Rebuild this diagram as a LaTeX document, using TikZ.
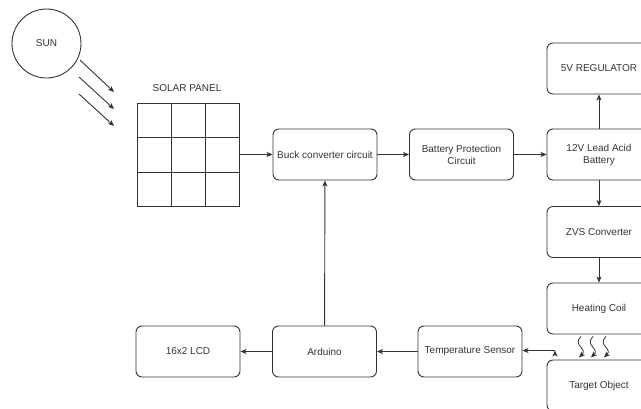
\documentclass[tikz,border=0pt]{standalone}
\usepackage{fontspec}
\setmainfont{Liberation Sans}
\usetikzlibrary{arrows.meta}

\tikzset{
    block/.style={draw, rounded corners=6pt, minimum width=104pt, minimum height=51pt,
        align=center, inner sep=1pt},
    tip/.style={-{Stealth[length=6pt, width=5pt, inset=1.5pt]}}
}

\begin{document}
\begin{tikzpicture}[x=1pt, y=-1pt, line width=0.9pt, draw=black!80, text=black!80,
    font=\fontsize{10}{12}\selectfont]
    \useasboundingbox (0, 0) rectangle (641, 408);

    \node[draw, circle, minimum size=69pt] (sun) at (46.5, 43.5) {SUN};
    \node[draw, minimum width=102pt, minimum height=103pt, inner sep=0pt] (panel) at (188, 154.5) {};
    \node (paneltxt) at (187, 88) {SOLAR PANEL};
    \node[block] (buck) at (325, 154.5) {Buck converter circuit};
    \node[block] (protect) at (461.5, 154.5) {Battery Protection\\Circuit};
    \node[block] (battery) at (599, 154.5) {12V Lead Acid\\Battery};
    \node[block] (reg) at (599, 68.5) {5V REGULATOR};
    \node[block] (zvs) at (599, 232) {ZVS Converter};
    \node[block] (coil) at (599, 308.5) {Heating Coil};
    \node[block] (target) at (599, 385.5) {Target Object};
    \node[block] (sensor) at (470, 351.5) {Temperature Sensor};
    \node[block] (arduino) at (324.5, 351.5) {Arduino};
    \node[block] (lcd) at (188, 351.5) {16x2 LCD};

    % grid of the solar panel
    \foreach \gx in {171, 205}
        \draw (\gx, 103) -- (\gx, 206);
    \foreach \gy in {137, 172}
        \draw (137, \gy) -- (239, \gy);

    % sun rays
    \coordinate (ray1a) at (80, 60);   \coordinate (ray1b) at (114, 92);
    \coordinate (ray2a) at (79, 77);   \coordinate (ray2b) at (114, 109);
    \coordinate (ray3a) at (79, 94);   \coordinate (ray3b) at (114, 126);
    \coordinate (heat) at (555, 350.5);

    \draw[tip]
        (ray1a) edge (ray1b)
        (ray2a) edge (ray2b)
        (ray3a) edge (ray3b)
        (panel) edge (buck)
        (buck) edge (protect)
        (protect) edge (battery)
        (battery) edge (reg)
        (battery) edge (zvs)
        (zvs) edge (coil)
        (heat) edge (sensor.east |- heat)
        (sensor) edge (arduino)
        (arduino) edge (lcd)
        (arduino) edge (buck);

    % heat from the coil
    \foreach \s in {-18, -6, 7}
        \draw[tip, line width=0.8pt] ([xshift=\s pt, yshift=-2pt]coil.south)
            .. controls +(-9pt, -9pt) and +(9pt, 9pt) ..
            ([xshift=\s pt - 2pt, yshift=2pt]target.north);
\end{tikzpicture}
\end{document}
